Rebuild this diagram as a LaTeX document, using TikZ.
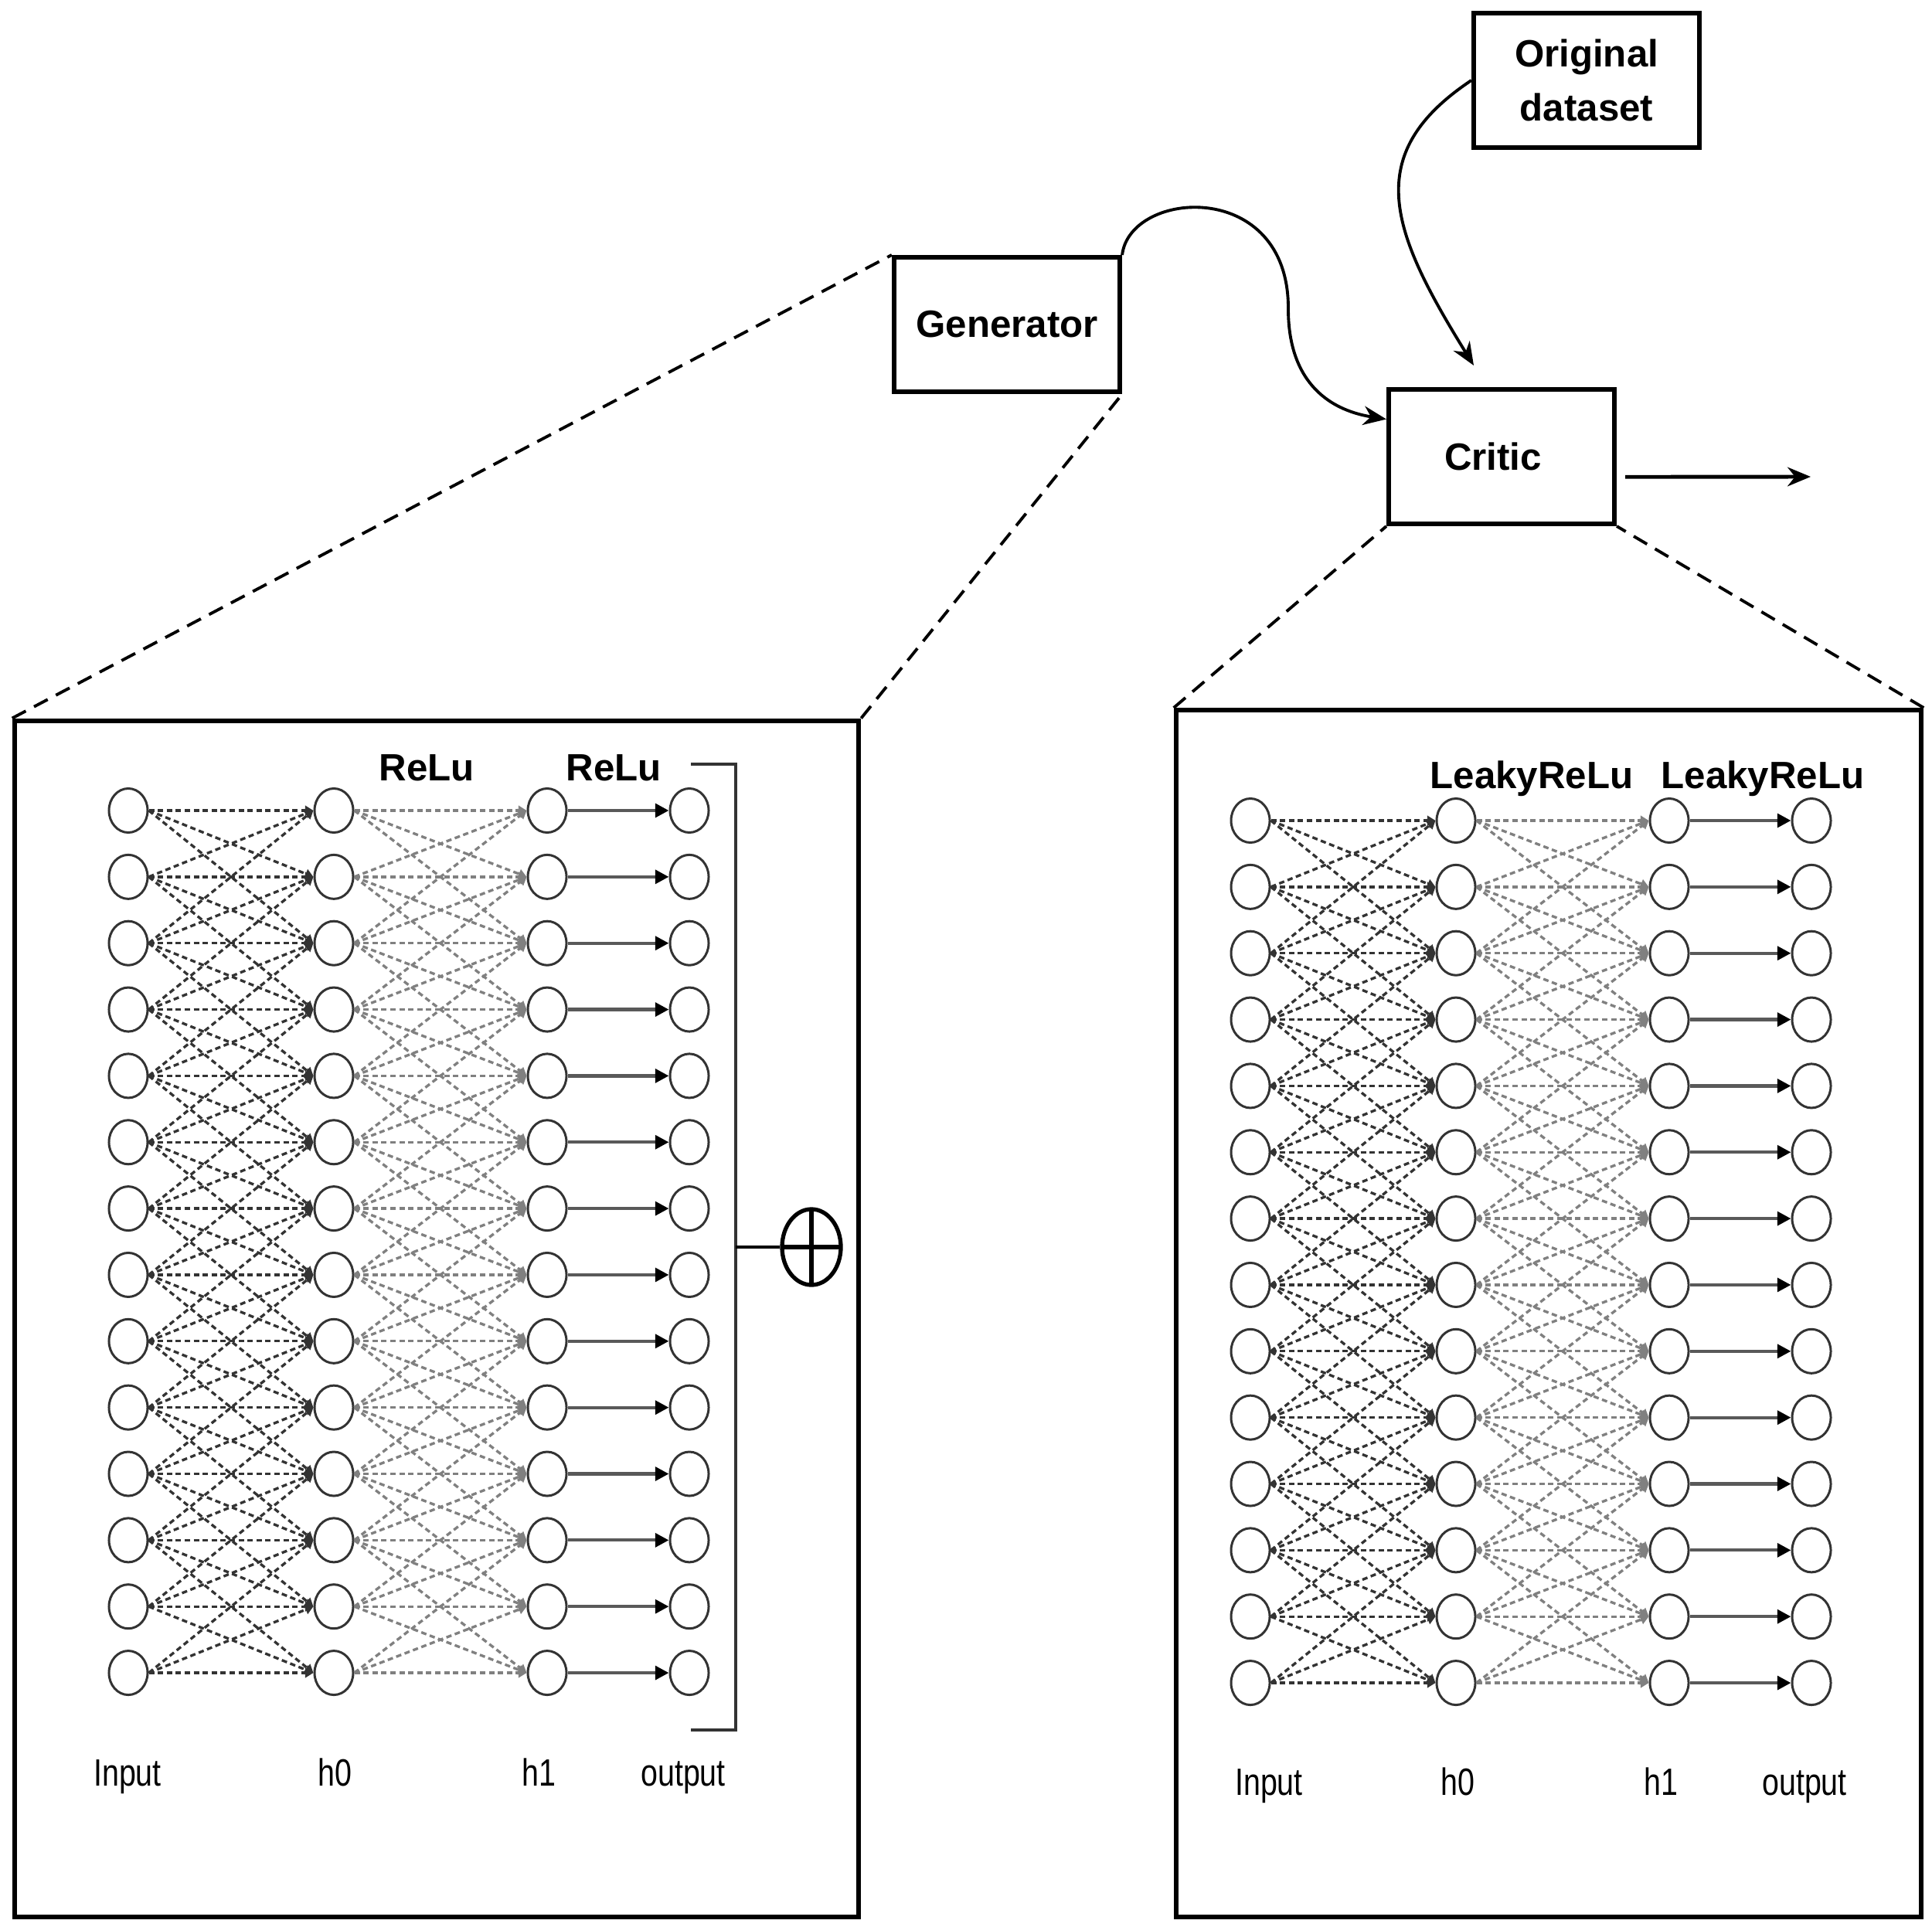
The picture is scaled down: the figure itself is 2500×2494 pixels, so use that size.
\documentclass[tikz,border=0pt]{standalone}
\usepackage{fontspec}
\setmainfont{Liberation Sans}
\newfontfamily\narrowsans[FakeStretch=0.8]{Liberation Sans}
\usetikzlibrary{arrows.meta,shapes.geometric}

\begin{document}
\begin{tikzpicture}[x=0.01cm, y=-0.01cm, font=\fontsize{14}{20}\selectfont,
  block/.style={draw, line width=1.7pt, minimum width=2.92cm, minimum height=1.74cm,
                align=center, font=\fontsize{14}{20}\selectfont\bfseries},
  panel/.style={draw, line width=1.7pt, inner sep=0pt},
  neuron/.style={ellipse, draw=black!80, line width=0.85pt, minimum width=0.5cm,
                 minimum height=0.57cm, inner sep=0pt},
  wdark/.style={black!80, line width=0.95pt, dash pattern=on 2pt off 1.3pt,
                -{Triangle[length=3pt,width=3.5pt]}},
  wlight/.style={black!50, line width=0.95pt, dash pattern=on 2pt off 1.3pt,
                 -{Triangle[length=3pt,width=3.5pt]}},
  pass/.style={black!65, line width=1.2pt, -{Triangle[length=5pt,width=5pt,black]}},
  zoomline/.style={line width=1.1pt, dash pattern=on 5.7pt off 3.4pt},
  flow/.style={line width=1.1pt, -{Stealth[length=8.5pt,width=7pt]}},
  bracket/.style={black!80, line width=1.1pt},
  sumnode/.style={ellipse, draw, line width=1.5pt, minimum width=0.76cm, minimum height=0.98cm,
                  inner sep=0pt, path picture={
                    \draw[line width=1.5pt] (path picture bounding box.north) -- (path picture bounding box.south)
                      (path picture bounding box.west) -- (path picture bounding box.east);}},
  act/.style={anchor=base, font=\fontsize{14}{20}\selectfont\bfseries},
  layer/.style={anchor=base, font=\fontsize{14}{20}\selectfont\narrowsans}]
  \useasboundingbox (0,0) rectangle (2500,2494);

  \node[block] (orig) at (2053,104) {Original\\dataset};
  \node[block] (gen) at (1303,420) {Generator};
  \node[block] (crit) at (1943,591) {Critic\hspace*{0.22cm}};
  \node[panel, minimum width=10.92cm, minimum height=15.48cm] (gpanel) at (565,1707) {};
  \node[panel, minimum width=9.64cm, minimum height=15.61cm] (cpanel) at (2004,1700) {};

  \draw[zoomline] (gpanel.north west) -- (gen.north west);
  \draw[zoomline] (gpanel.north east) -- (gen.south east);
  \draw[zoomline] (cpanel.north west) -- (crit.south west);
  \draw[zoomline] (cpanel.north east) -- (crit.south east);

  \coordinate (orig-tip) at (1907,473);
  \coordinate (score) at (2343,617);
  \draw[flow] (gen.north east) .. controls (1462,245) and (1668,230) .. (1667,400)
    .. controls (1667,490) and (1715,530) .. (crit.162);
  \draw[flow] (orig.west) .. controls (1760,200) and (1800,300) .. (orig-tip);
  \draw[flow, line width=1.4pt, shorten <=0.11cm] (crit.-10) -- (score);

  \foreach \i [evaluate=\i as \yg using 1049+85.85*(\i-1),
               evaluate=\i as \yc using 1062+85.85*(\i-1)] in {1,...,14} {
    \node[neuron] (gin\i) at (166,\yg) {};
    \node[neuron] (gh0\i) at (432,\yg) {};
    \node[neuron] (gh1\i) at (708,\yg) {};
    \node[neuron] (gout\i) at (892,\yg) {};
    \node[neuron] (cin\i) at (1618,\yc) {};
    \node[neuron] (ch0\i) at (1884,\yc) {};
    \node[neuron] (ch1\i) at (2160,\yc) {};
    \node[neuron] (cout\i) at (2344,\yc) {};
  }

  \foreach \i in {1,...,14} {
    \foreach \j in {1,...,14} {
      \ifnum\numexpr\i-\j\relax<3 \ifnum\numexpr\j-\i\relax<3
        \draw[wdark] (gin\i.east) -- (gh0\j.west);
        \draw[wlight] (gh0\i.east) -- (gh1\j.west);
        \draw[wdark] (cin\i.east) -- (ch0\j.west);
        \draw[wlight] (ch0\i.east) -- (ch1\j.west);
      \fi\fi
    }
    \draw[pass] (gh1\i) -- (gout\i);
    \draw[pass] (ch1\i) -- (cout\i);
  }

  \foreach \xv/\yv/\txt in {552/1010/ReLu, 794/1010/ReLu, 1982/1020/LeakyReLu, 2281/1020/LeakyReLu}
    \node[act] (act-\xv) at (\xv,\yv) {\txt};
  \foreach \xv/\yv/\txt in {165/2311/Input, 433/2311/h0, 697/2311/h1, 884/2311/output,
                            1642/2323/Input, 1886/2323/h0, 2149/2323/h1, 2335/2323/output}
    \node[layer] (lbl-\xv) at (\xv,\yv) {\txt};

  \node[sumnode] (sum) at (1050,1614) {};
  \coordinate (brmid) at (952,1614);
  \draw[bracket] (894,989) -- (952,989) -- (952,2239) -- (894,2239);
  \draw[line width=1.1pt] (brmid) -- (sum);
\end{tikzpicture}
\end{document}
